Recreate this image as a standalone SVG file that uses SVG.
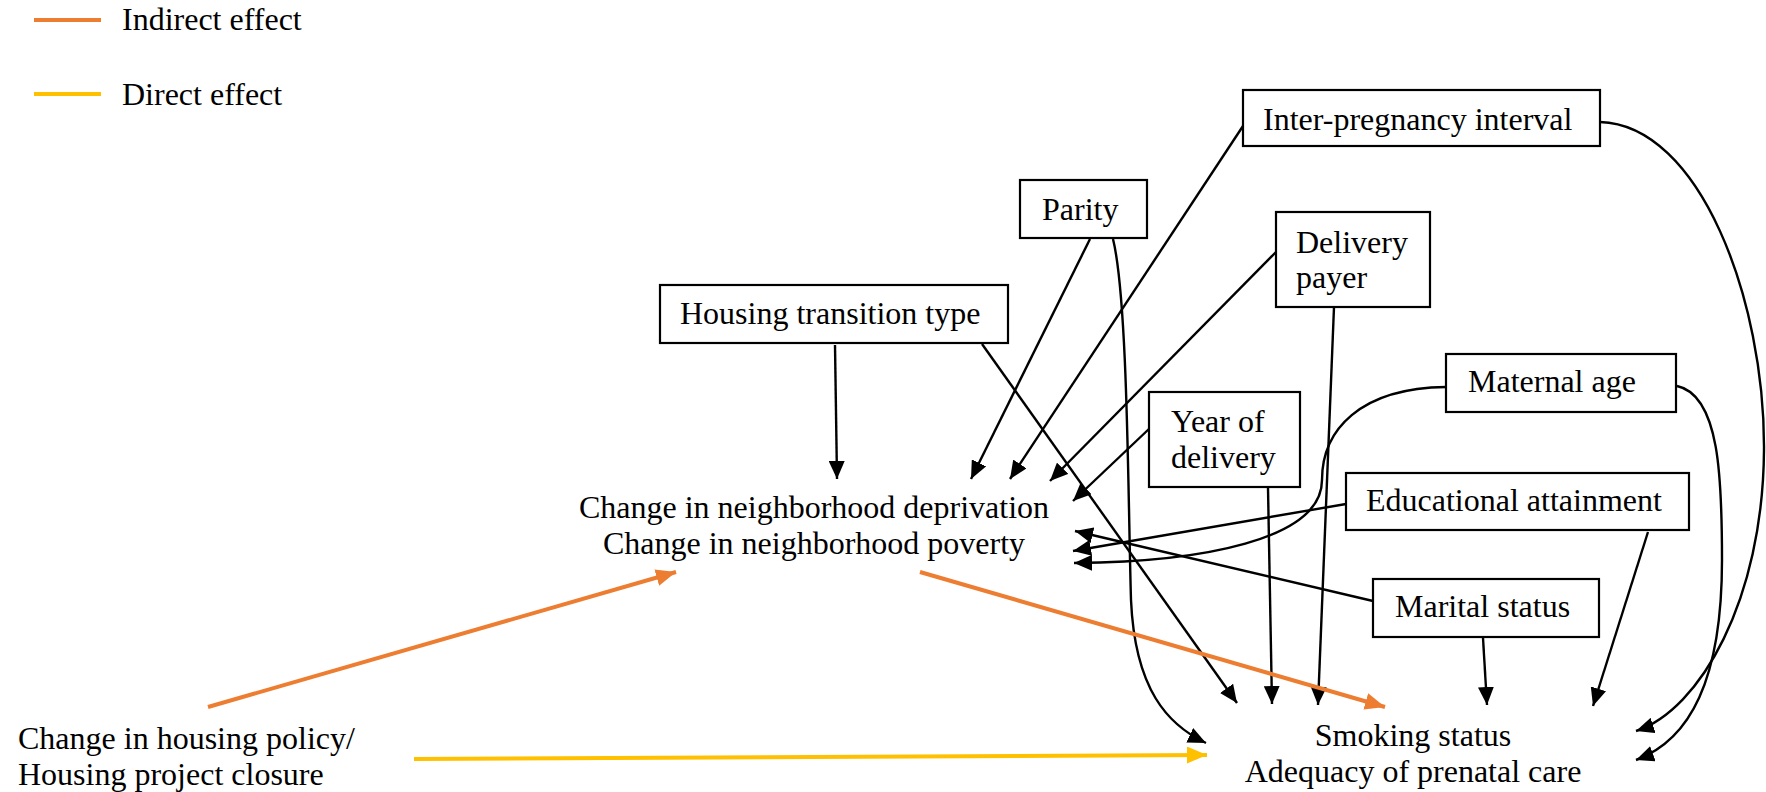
<svg xmlns="http://www.w3.org/2000/svg" width="1766" height="792" viewBox="0 0 1766 792">
<style>
text{font-family:"Liberation Serif","Times New Roman",serif;font-size:32px;fill:#000}
.box{fill:#fff;stroke:#000;stroke-width:2.2}
.k{fill:none;stroke:#000;stroke-width:2.4}
.o{fill:none;stroke:#ED7D31;stroke-width:4}
.y{fill:none;stroke:#FFC000;stroke-width:4}
.c{text-anchor:middle}
</style>
<defs>
<marker id="ak" markerUnits="userSpaceOnUse" markerWidth="19" markerHeight="16" refX="18" refY="8" orient="auto"><path d="M0,0 L18,8 L0,16 z" fill="#000"/></marker>
<marker id="ao" markerUnits="userSpaceOnUse" markerWidth="21" markerHeight="17" refX="20" refY="8.5" orient="auto"><path d="M0,0 L20,8.5 L0,17 z" fill="#ED7D31"/></marker>
<marker id="ay" markerUnits="userSpaceOnUse" markerWidth="21" markerHeight="17" refX="20" refY="8.5" orient="auto"><path d="M0,0 L20,8.5 L0,17 z" fill="#FFC000"/></marker>
</defs>
<g id="legend">
<line x1="34" y1="20" x2="101" y2="20" class="o"/>
<text x="122" y="30">Indirect effect</text>
<line x1="34" y1="94" x2="101" y2="94" class="y"/>
<text x="122" y="105">Direct effect</text>
</g>
<g id="connectors">
<line x1="835" y1="345" x2="837" y2="479" class="k" marker-end="url(#ak)"/>
<line x1="1090" y1="239" x2="971" y2="479" class="k" marker-end="url(#ak)"/>
<line x1="1243" y1="126" x2="1010" y2="479" class="k" marker-end="url(#ak)"/>
<line x1="1276" y1="252" x2="1050" y2="481" class="k" marker-end="url(#ak)"/>
<line x1="1150" y1="428" x2="1073" y2="501" class="k" marker-end="url(#ak)"/>
<line x1="1373" y1="601" x2="1075" y2="531" class="k" marker-end="url(#ak)"/>
<line x1="1346" y1="504" x2="1073" y2="551" class="k" marker-end="url(#ak)"/>
<path d="M1446,387 C1360,388 1322,430 1322,480 C1322,540 1200,562 1074,563" class="k" marker-end="url(#ak)"/>
<path d="M1113,239 C1128,300 1128,500 1131,600 C1135,690 1168,725 1206,743" class="k" marker-end="url(#ak)"/>
<line x1="982" y1="344" x2="1237" y2="703" class="k" marker-end="url(#ak)"/>
<line x1="1268" y1="488" x2="1272" y2="704" class="k" marker-end="url(#ak)"/>
<line x1="1334" y1="307" x2="1318" y2="705" class="k" marker-end="url(#ak)"/>
<line x1="1483" y1="638" x2="1487" y2="705" class="k" marker-end="url(#ak)"/>
<line x1="1648" y1="532" x2="1593" y2="706" class="k" marker-end="url(#ak)"/>
<path d="M1600,122 C1700,125 1765,300 1764,450 C1763,600 1700,710 1636,731" class="k" marker-end="url(#ak)"/>
<path d="M1677,386 C1720,395 1722,480 1722,560 C1722,680 1690,740 1636,760" class="k" marker-end="url(#ak)"/>
<line x1="208" y1="707" x2="676" y2="572" class="o" marker-end="url(#ao)"/>
<line x1="920" y1="572" x2="1385" y2="707" class="o" marker-end="url(#ao)"/>
<line x1="414" y1="759" x2="1207" y2="755" class="y" marker-end="url(#ay)"/>
</g>
<g id="inter-pregnancy">
<rect x="1243" y="90" width="357" height="56" class="box"/>
<text x="1263" y="130">Inter-pregnancy interval</text>
</g>
<g id="parity">
<rect x="1020" y="180" width="127" height="58" class="box"/>
<text x="1042" y="220">Parity</text>
</g>
<g id="delivery-payer">
<rect x="1276" y="212" width="154" height="95" class="box"/>
<text x="1296" y="253">Delivery</text>
<text x="1296" y="288">payer</text>
</g>
<g id="housing-transition">
<rect x="660" y="285" width="348" height="58" class="box"/>
<text x="680" y="324">Housing transition type</text>
</g>
<g id="year-of-delivery">
<rect x="1149" y="392" width="151" height="95" class="box"/>
<text x="1171" y="432">Year of</text>
<text x="1171" y="468">delivery</text>
</g>
<g id="maternal-age">
<rect x="1446" y="354" width="230" height="58" class="box"/>
<text x="1468" y="392">Maternal age</text>
</g>
<g id="educational-attainment">
<rect x="1346" y="473" width="343" height="57" class="box"/>
<text x="1366" y="511">Educational attainment</text>
</g>
<g id="marital-status">
<rect x="1373" y="579" width="226" height="58" class="box"/>
<text x="1395" y="617">Marital status</text>
</g>
<g id="neighborhood-change">
<text x="814" y="518" class="c">Change in neighborhood deprivation</text>
<text x="814" y="554" class="c">Change in neighborhood poverty</text>
</g>
<g id="housing-policy">
<text x="18" y="749">Change in housing policy/</text>
<text x="18" y="785">Housing project closure</text>
</g>
<g id="outcomes">
<text x="1413" y="746" class="c">Smoking status</text>
<text x="1413" y="782" class="c">Adequacy of prenatal care</text>
</g>
</svg>
